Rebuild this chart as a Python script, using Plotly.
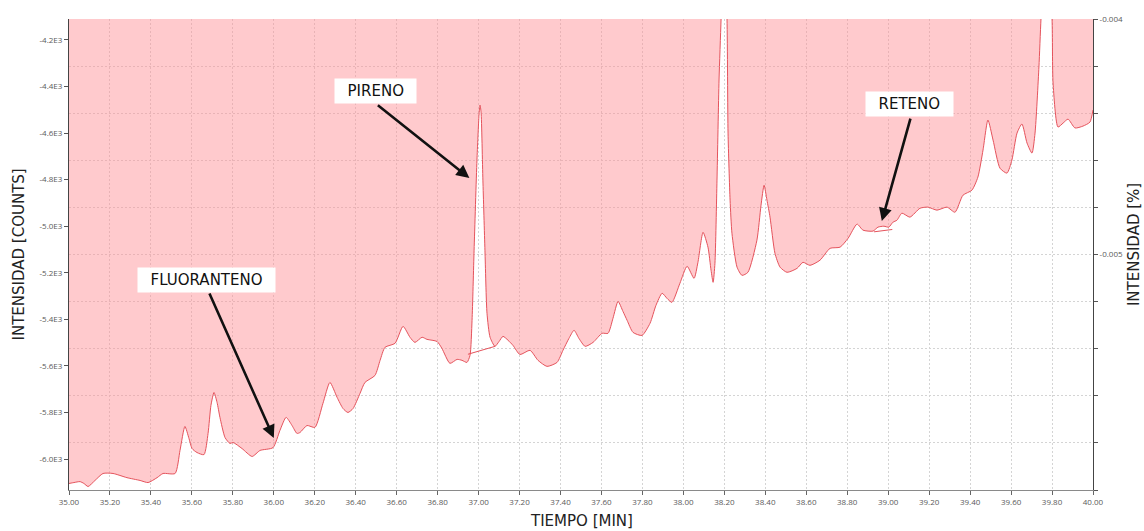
import plotly.graph_objects as go

# Chromatogram segment, 35-40 min (time in min, intensity in counts)
TIME = [
    35.000, 35.024, 35.054, 35.073, 35.093, 35.127, 35.166, 35.215, 35.283, 35.347,
    35.386, 35.430, 35.459, 35.518, 35.542, 35.566, 35.586, 35.601, 35.625, 35.659,
    35.679, 35.693, 35.708, 35.723, 35.737, 35.762, 35.786, 35.801, 35.845, 35.894,
    35.933, 35.996, 36.030, 36.060, 36.089, 36.113, 36.128, 36.162, 36.201, 36.240,
    36.274, 36.309, 36.338, 36.362, 36.387, 36.421, 36.445, 36.494, 36.519, 36.543,
    36.592, 36.631, 36.665, 36.689, 36.724, 36.748, 36.797, 36.821, 36.860, 36.895,
    36.919, 36.943, 36.958, 36.968, 36.978, 36.992, 37.002, 37.007, 37.012, 37.021,
    37.031, 37.041, 37.056, 37.080, 37.100, 37.119, 37.144, 37.168, 37.202, 37.251,
    37.290, 37.334, 37.383, 37.412, 37.441, 37.466, 37.490, 37.520, 37.559, 37.603,
    37.632, 37.656, 37.681, 37.705, 37.725, 37.754, 37.798, 37.837, 37.866, 37.896,
    37.920, 37.944, 37.983, 38.018, 38.052, 38.071, 38.096, 38.120, 38.135, 38.145,
    38.154, 38.164, 38.174, 38.184, 38.198, 38.213, 38.218, 38.228, 38.237, 38.262,
    38.286, 38.315, 38.359, 38.379, 38.394, 38.408, 38.423, 38.447, 38.472, 38.506,
    38.555, 38.584, 38.618, 38.667, 38.716, 38.765, 38.804, 38.848, 38.877, 38.926,
    38.950, 38.979, 39.003, 39.023, 39.043, 39.067, 39.106, 39.155, 39.194, 39.238,
    39.287, 39.326, 39.365, 39.409, 39.438, 39.463, 39.487, 39.512, 39.546, 39.580,
    39.604, 39.629, 39.653, 39.678, 39.702, 39.717, 39.736, 39.746, 39.771, 39.800,
    39.805, 39.829, 39.854, 39.878, 39.912, 39.951, 39.985, 40.000,
]
COUNTS = [
    -6105, -6101, -6097, -6105, -6118, -6092, -6062, -6062, -6080, -6092,
    -6101, -6080, -6062, -6062, -5963, -5860, -5912, -5955, -5972, -5981,
    -5890, -5770, -5714, -5757, -5821, -5908, -5933, -5929, -5955, -5989,
    -5963, -5951, -5877, -5821, -5856, -5890, -5886, -5856, -5864, -5761,
    -5671, -5735, -5783, -5800, -5783, -5718, -5671, -5641, -5576, -5520,
    -5503, -5430, -5477, -5499, -5477, -5486, -5495, -5525, -5589, -5572,
    -5576, -5585, -5555, -5404, -5103, -4716, -4523, -4480, -4510, -4802,
    -5103, -5374, -5477, -5516, -5495, -5473, -5490, -5512, -5551, -5533,
    -5576, -5602, -5585, -5533, -5482, -5447, -5482, -5516, -5499, -5460,
    -5460, -5396, -5323, -5366, -5404, -5456, -5469, -5417, -5340, -5288,
    -5310, -5327, -5245, -5172, -5224, -5155, -5026, -5090, -5189, -5241,
    -5159, -4802, -4372, -4110, -3700, -4110, -4600, -4888, -5030, -5176,
    -5211, -5198, -5060, -4910, -4824, -4888, -4961, -5116, -5176, -5198,
    -5181, -5155, -5168, -5146, -5095, -5090, -5052, -4991, -5017, -5021,
    -5004, -5000, -5004, -4983, -4974, -4944, -4961, -4923, -4918, -4931,
    -4918, -4940, -4867, -4845, -4789, -4673, -4544, -4630, -4751, -4772,
    -4716, -4600, -4561, -4643, -4686, -4600, -4316, -4110, -3700, -4110,
    -4385, -4574, -4557, -4540, -4578, -4570, -4553, -4501,
]

# Integration baselines drawn under the labelled peaks
PIRENO_BASE_T = [36.948, 37.080]
PIRENO_BASE_C = [-5550, -5516]
RETENO_BASE_T = [38.931, 39.020]
RETENO_BASE_C = [-5024, -5014]

# Axis ticks
X_TICKS = [35.0, 35.2, 35.4, 35.6, 35.8, 36.0, 36.2, 36.4, 36.6, 36.8, 37.0, 37.2, 37.4,
           37.6, 37.8, 38.0, 38.2, 38.4, 38.6, 38.8, 39.0, 39.2, 39.4, 39.6, 39.8, 40.0]
X_LABELS = ["35.00", "35.20", "35.40", "35.60", "35.80", "36.00", "36.20", "36.40", "36.60",
            "36.80", "37.00", "37.20", "37.40", "37.60", "37.80", "38.00", "38.20", "38.40",
            "38.60", "38.80", "39.00", "39.20", "39.40", "39.60", "39.80", "40.00"]
Y_TICKS = [-6000, -5800, -5600, -5400, -5200, -5000, -4800, -4600, -4400, -4200]
Y_LABELS = ["-6.0E3", "-5.8E3", "-5.6E3", "-5.4E3", "-5.2E3", "-5.0E3", "-4.8E3",
            "-4.6E3", "-4.4E3", "-4.2E3"]
PCT_TICKS = [-0.006, -0.0058, -0.0056, -0.0054, -0.0052, -0.005, -0.0048, -0.0046,
             -0.0044, -0.0042, -0.004]
PCT_LABELS = ["", "", "", "", "", "-0.005", "", "", "", "", "-0.004"]

# Peak labels: (name, time, counts at arrow tip)
PEAKS = [
    ("FLUORANTENO", 36.00, -5910),
    ("PIRENO", 36.955, -4793),
    ("RETENO", 38.969, -4978),
]

Y_RANGE = [-6133, -4110]
PCT_RANGE = [-0.006, -0.0039999]

LINE_RED = "#e5535c"
FILL_PINK = "rgba(255,140,146,0.46)"
GRID = "#d4d4d4"
TICK_FONT = dict(family="Open Sans", size=8, color="#5a5a5a")
TITLE_FONT = dict(family="DejaVu Sans", size=15, color="#222222")
LABEL_FONT = dict(family="DejaVu Sans", size=15, color="#111111")

fig = go.Figure()

# ceiling for the fill above the trace
fig.add_trace(go.Scatter(
    x=TIME, y=[Y_RANGE[1]] * len(TIME), mode="lines",
    line=dict(width=0, color="rgba(0,0,0,0)"), hoverinfo="skip", showlegend=False,
))
fig.add_trace(go.Scatter(
    x=TIME, y=COUNTS, mode="lines", fill="tonexty", fillcolor=FILL_PINK,
    line=dict(color=LINE_RED, width=1, shape="spline", smoothing=0.6), showlegend=False,
))
for bt, bc in ((PIRENO_BASE_T, PIRENO_BASE_C), (RETENO_BASE_T, RETENO_BASE_C)):
    fig.add_trace(go.Scatter(
        x=bt, y=bc, mode="lines", line=dict(color=LINE_RED, width=1),
        showlegend=False, hoverinfo="skip",
    ))
# keeps the percent axis on the right
fig.add_trace(go.Scatter(x=[None], y=[None], yaxis="y2", mode="lines", showlegend=False))

# label offsets (pixels) from arrow tip to label box, and arrow tails
offsets = {"FLUORANTENO": (-67, -158), "PIRENO": (-94, -87), "RETENO": (28, -117)}
tails = {"FLUORANTENO": (-65, -146), "PIRENO": (-93, -74), "RETENO": (29, -104)}
annotations = []
for name, t, c in PEAKS:
    ox, oy = offsets[name]
    tx, ty = tails[name]
    annotations.append(dict(
        x=t, y=c, xref="x", yref="y", text="", showarrow=True,
        ax=tx, ay=ty, arrowhead=2, arrowsize=1, arrowwidth=2.6, arrowcolor="#111111",
        standoff=0,
    ))
    annotations.append(dict(
        x=t, y=c, xref="x", yref="y", xshift=ox, yshift=-oy,
        text="\u00a0\u00a0" + name + "\u00a0\u00a0", showarrow=False,
        bgcolor="#ffffff", borderpad=3, font=LABEL_FONT,
    ))

annotations += [
    dict(text="TIEMPO [MIN]", x=0.5, y=0, xref="paper", yref="paper", xanchor="center",
         yanchor="middle", yshift=-31, showarrow=False, font=TITLE_FONT),
    dict(text="INTENSIDAD [COUNTS]", x=0, y=0.5, xref="paper", yref="paper",
         xanchor="center", yanchor="middle", xshift=-51, textangle=-90,
         showarrow=False, font=TITLE_FONT),
    dict(text="INTENSIDAD [%]", x=1, y=0.52, xref="paper", yref="paper",
         xanchor="center", yanchor="middle", xshift=41, textangle=-90,
         showarrow=False, font=TITLE_FONT),
]

fig.update_layout(
    width=1144, height=531,
    margin=dict(l=69, r=51, t=19, b=41),
    paper_bgcolor="#ffffff", plot_bgcolor="#ffffff",
    showlegend=False,
    annotations=annotations,
    xaxis=dict(
        range=[35, 40], tickvals=X_TICKS, ticktext=X_LABELS, tickfont=TICK_FONT,
        ticks="outside", ticklen=4, tickcolor="#666666",
        showline=True, linecolor="#8a8a8a", linewidth=1,
        showgrid=True, gridcolor=GRID, griddash="2px,2px", gridwidth=1,
        zeroline=False,
    ),
    yaxis=dict(
        range=Y_RANGE, tickvals=Y_TICKS, ticktext=Y_LABELS, tickfont=TICK_FONT,
        ticks="outside", ticklen=4, tickcolor="#555555",
        showline=True, linecolor="#444444", linewidth=1,
        showgrid=False, zeroline=False,
    ),
    yaxis2=dict(
        overlaying="y", side="right", anchor="x",
        range=PCT_RANGE, tickvals=PCT_TICKS, ticktext=PCT_LABELS, tickfont=TICK_FONT,
        ticks="outside", ticklen=4, tickcolor="#555555",
        showline=True, linecolor="#444444", linewidth=1,
        showgrid=True, gridcolor=GRID, griddash="2px,2px", gridwidth=1,
        zeroline=False,
    ),
)

fig.write_html("out.html")
